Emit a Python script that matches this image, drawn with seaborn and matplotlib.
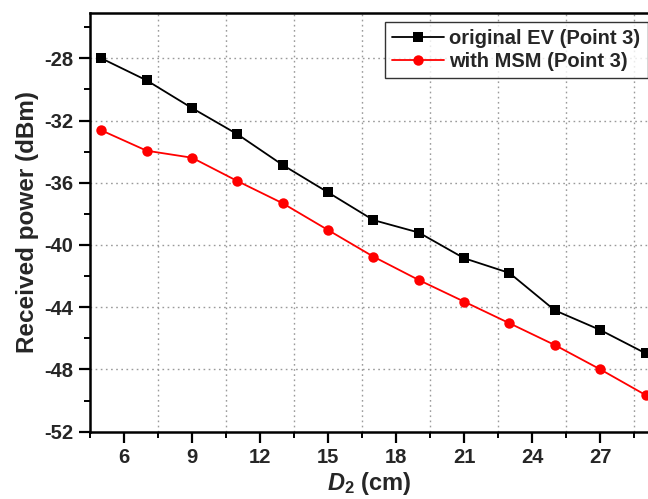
import matplotlib
matplotlib.use("Agg")
import matplotlib.pyplot as plt
import seaborn as sns
import numpy as np
import pandas as pd
from matplotlib.ticker import MultipleLocator

# Data
d2_cm = [5, 7, 9, 11, 13, 15, 17, 19, 21, 23, 25, 27, 29]
original_ev = [-28.0, -29.42, -31.2, -32.88, -34.86, -36.62, -38.4, -39.2,
               -40.85, -41.8, -44.2, -45.46, -46.96]
with_msm = [-32.63, -33.94, -34.39, -35.89, -37.32, -39.04, -40.75, -42.25,
            -43.64, -45.03, -46.43, -47.99, -49.64]
series_names = ["original EV (Point 3)", "with MSM (Point 3)"]
x_ticks = [6, 9, 12, 15, 18, 21, 24, 27]
y_ticks = [-52, -48, -44, -40, -36, -32, -28]

sns.set_style("white")
plt.rcParams['font.family'] = ['Liberation Sans', 'DejaVu Sans']
plt.rcParams['font.weight'] = 'bold'
plt.rcParams['axes.unicode_minus'] = False
plt.rcParams['mathtext.fontset'] = 'custom'
plt.rcParams['mathtext.it'] = 'Liberation Sans:italic:bold'
plt.rcParams['mathtext.rm'] = 'Liberation Sans:bold'

df = pd.DataFrame({
    "x": d2_cm * 2,
    "y": original_ev + with_msm,
    "series": [series_names[0]] * len(d2_cm) + [series_names[1]] * len(d2_cm),
})

fig = plt.figure(figsize=(6.48, 4.99), dpi=100)
ax = fig.add_axes([0.1389, 0.1349, 1.0 - 0.1389, 0.9745 - 0.1349])

sns.lineplot(data=df, x="x", y="y", hue="series", style="series",
             palette={series_names[0]: "black", series_names[1]: "#ff0000"},
             markers={series_names[0]: "s", series_names[1]: "o"},
             dashes=False, markersize=7.5, markeredgewidth=0, linewidth=1.3,
             ax=ax, legend=True)

ax.set_xlim(4.5, 29.11)
ax.set_ylim(-52, -25.07)

ax.set_xticks(x_ticks, labels=[str(v) for v in x_ticks], fontweight='bold', fontsize=14.5)
ax.set_yticks(y_ticks, labels=[str(v) for v in y_ticks], fontweight='bold', fontsize=14.5)
ax.xaxis.set_minor_locator(MultipleLocator(1.5))
ax.yaxis.set_minor_locator(MultipleLocator(2))

ax.tick_params(axis='both', which='major', direction='out', length=8, width=1.6,
               pad=4, bottom=True, left=True, color='black')
ax.tick_params(axis='both', which='minor', direction='out', length=4.5, width=1.4,
               bottom=True, left=True, color='black')

# grid: x at minor (half) positions, y at majors
ax.grid(False)
for gx in np.arange(7.5, 29.0, 3.0):
    ax.axvline(gx, color='#9a9a9a', linestyle=(0, (1.2, 2.5)), linewidth=1.0, zorder=0)
for gy in y_ticks[1:]:
    ax.axhline(gy, color='#9a9a9a', linestyle=(0, (1.2, 2.5)), linewidth=1.0, zorder=0)

for side in ['left', 'bottom', 'top']:
    ax.spines[side].set_linewidth(1.8)
    ax.spines[side].set_color('black')
ax.spines['right'].set_visible(False)

ax.set_xlabel(r"$D_2$ (cm)", fontsize=17, fontweight='bold', labelpad=2)
ax.set_ylabel("Received power (dBm)", fontsize=17.5, fontweight='bold', labelpad=4)

handles, labels = ax.get_legend_handles_labels()
leg = ax.legend(handles, labels, loc='upper left',
                bbox_to_anchor=(385 / 648, 1 - 22 / 499), bbox_transform=fig.transFigure,
                frameon=True, fancybox=False, fontsize=14.5, handlelength=2.6,
                handletextpad=0.25, borderpad=0.35, labelspacing=0.2, borderaxespad=0)
leg.get_frame().set_edgecolor('black')
leg.get_frame().set_linewidth(1.0)
for t in leg.get_texts():
    t.set_fontweight('bold')

fig.savefig("out.png", dpi=100)
